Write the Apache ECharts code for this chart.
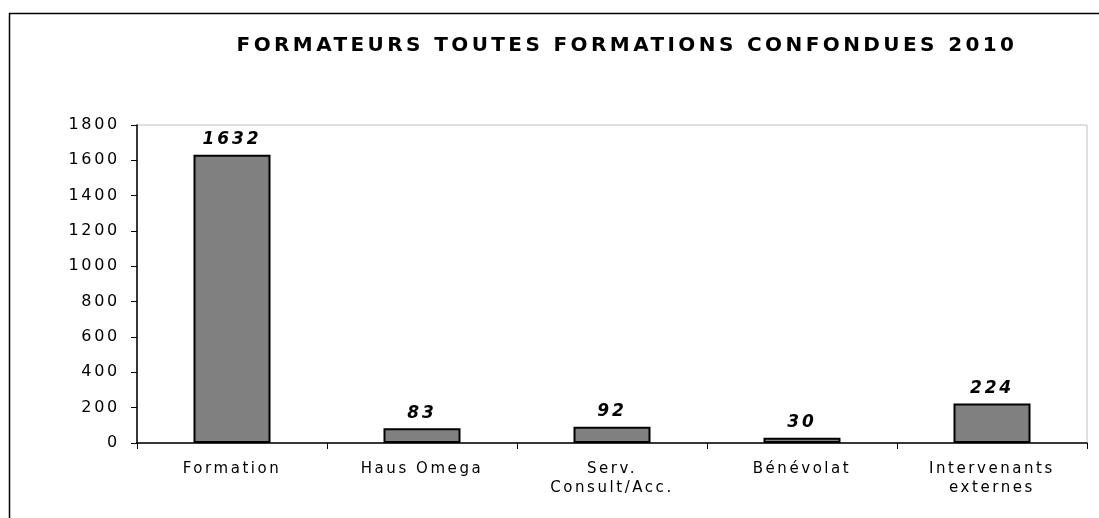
<!DOCTYPE html>
<html>
<head>
<meta charset="utf-8">
<script src="https://cdn.jsdelivr.net/npm/echarts@6/dist/echarts.min.js"></script>
<style>
  html, body { margin: 0; padding: 0; background: #fff; }
  #chart { width: 1099px; height: 518px; }
</style>
</head>
<body>
<div id="chart"></div>
<script>
// donnees
const titre = "FORMATEURS TOUTES FORMATIONS CONFONDUES 2010";
const categories = ["Formation", "Haus Omega", "Serv.\nConsult/Acc.", "Bénévolat", "Intervenants\nexternes"];
const valeurs = [1632, 83, 92, 30, 224];
const yMax = 1800;
const yStep = 200;

// le texte de l'original est tres espace : letterSpacing proportionnel a la taille de police
const ESPACE_EM = 0.17;
const proto = CanvasRenderingContext2D.prototype;
const fillTextOrig = proto.fillText;
const measureTextOrig = proto.measureText;
function espacer(ctx) {
    const m = /(\d+(?:\.\d+)?)px/.exec(ctx.font);
    ctx.letterSpacing = (m ? parseFloat(m[1]) * ESPACE_EM : 0) + "px";
}
proto.fillText = function (...args) {
    espacer(this);
    return fillTextOrig.apply(this, args);
};
proto.measureText = function (...args) {
    espacer(this);
    return measureTextOrig.apply(this, args);
};

const chart = echarts.init(document.getElementById("chart"), null, { renderer: "canvas" });

const police = "DejaVu Sans, Verdana, sans-serif";

const option = {
    backgroundColor: "#ffffff",
    animation: false,
    title: {
        text: titre,
        left: 622,
        textAlign: "center",
        top: 29,
        textStyle: {
            fontFamily: police,
            fontSize: 20,
            fontWeight: "bold",
            color: "#000",
        },
    },
    // cadre exterieur
    graphic: [
        {
            type: "rect",
            shape: { x: 9.5, y: 13.5, width: 1200, height: 600 },
            style: { fill: "none", stroke: "#000", lineWidth: 1.5 },
            silent: true,
        },
    ],
    grid: {
        left: 137,
        right: 12,
        top: 125,
        bottom: 75,
        show: true,
        borderColor: "#c0c0c0",
        borderWidth: 1,
    },
    xAxis: {
        type: "category",
        data: categories,
        axisLine: { lineStyle: { color: "#000", width: 1.5 } },
        axisTick: { show: true, alignWithLabel: false, length: 6, lineStyle: { color: "#000" } },
        axisLabel: {
            color: "#000",
            fontFamily: police,
            fontSize: 15,
            margin: 17,
            lineHeight: 19,
            interval: 0,
        },
    },
    yAxis: {
        type: "value",
        min: 0,
        max: yMax,
        interval: yStep,
        axisLine: { show: true, lineStyle: { color: "#000", width: 1.5 } },
        axisTick: { show: true, length: 6, lineStyle: { color: "#000" } },
        splitLine: { show: false },
        axisLabel: {
            color: "#000",
            fontFamily: police,
            fontSize: 16,
            margin: 17,
            formatter: (v) => String(v),
        },
    },
    series: [
        {
            type: "bar",
            data: valeurs,
            barWidth: 77,
            itemStyle: {
                color: "#808080",
                borderColor: "#000",
                borderWidth: 2,
            },
            label: {
                show: true,
                position: "top",
                distance: 5,
                color: "#000",
                fontFamily: police,
                fontSize: 17,
                fontWeight: "bold",
                fontStyle: "italic",
            },
        },
    ],
};

chart.setOption(option);
</script>
</body>
</html>
